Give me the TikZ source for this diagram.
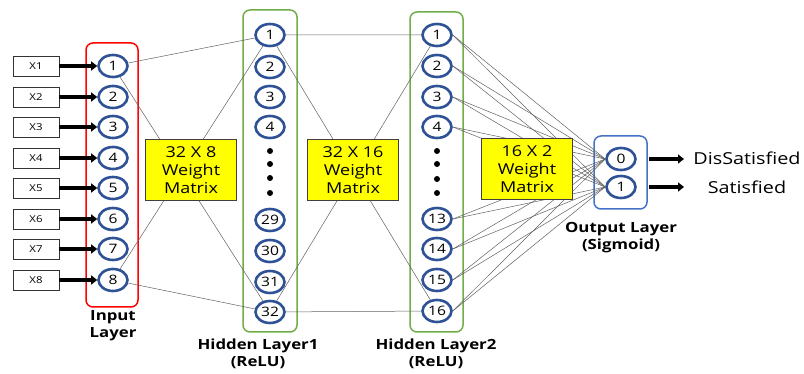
\documentclass[tikz,border=0pt]{standalone}
\usepackage{fontspec}
\setmainfont[FakeStretch=1.2]{Open Sans}
\usetikzlibrary{shapes.geometric,arrows.meta}
\definecolor{nblue}{RGB}{47,82,150}
\definecolor{gbox}{RGB}{112,173,71}
\definecolor{obox}{RGB}{68,114,196}
\definecolor{ybox}{RGB}{255,255,0}
\begin{document}
\begin{tikzpicture}[x=1pt,y=-1pt,
  neuron/.style={ellipse, draw=nblue, line width=2.6pt, fill=white,
    minimum width=29pt, minimum height=22pt, inner sep=0pt,
    font=\fontsize{13}{13}\selectfont},
  inbox/.style={draw=black!80, line width=0.8pt, minimum width=46pt,
    minimum height=20pt, inner sep=0pt, font=\fontsize{9.5}{10}\selectfont},
  wbox/.style={draw=black!75, fill=ybox, line width=1pt, minimum width=91pt,
    minimum height=61pt, inner sep=0pt, align=center,
    font=\fontsize{15}{18}\selectfont},
  link/.style={draw=black!62, line width=0.5pt},
  feed/.style={line width=3.4pt, -{Triangle[length=6pt,width=9pt]}},
  layerlabel/.style={font=\bfseries\fontsize{14}{17}\selectfont, align=center},
  group/.style={rounded corners=7pt, line width=1.5pt, fill=white},
  dotmark/.style={circle, fill=black, inner sep=0pt, minimum size=6pt},
  outtext/.style={font=\fontsize{16.5}{17}\selectfont}]
\useasboundingbox (0,0) rectangle (804,374);

% layer frames
\draw[group, draw=red] (86,43) rectangle (138,307);
\draw[group, draw=gbox] (243,10) rectangle (297,332);
\draw[group, draw=gbox] (410,12) rectangle (463,332);
\draw[group, draw=obox] (594,136) rectangle (647,209);

% input layer
\foreach \i/\y in {1/66,2/97,3/127,4/158,5/188,6/219,7/249,8/280}{
  \node[inbox] (x\i) at (36,\y) {X\i};
  \node[neuron] (in\i) at (113,\y) {\i};
  \draw[feed] (x\i.east) -- (in\i.west);
}

% hidden layer 1
\foreach \i/\y in {1/35,2/67,3/97,4/127,29/220,30/251,31/282,32/312}{
  \node[neuron] (ha\i) at (270,\y) {\i};
}
\foreach \k/\y in {1/151,2/164,3/178,4/193}{
  \node[dotmark] (hadot\k) at (270,\y) {};
}

% hidden layer 2
\foreach \i/\y in {1/35,2/66,3/97,4/127,13/219,14/249,15/280,16/311}{
  \node[neuron] (hb\i) at (437,\y) {\i};
}
\foreach \k/\y in {1/151,2/164,3/179,4/193}{
  \node[dotmark] (hbdot\k) at (437,\y) {};
}

% output layer
\node[neuron] (o0) at (621,159) {0};
\node[neuron] (o1) at (621,187) {1};

% weight connections
\draw[link] (in1) -- (ha1) (in1) -- (ha32) (in8) -- (ha1) (in8) -- (ha32);
\draw[link] (ha1) -- (hb1) (ha1) -- (hb16) (ha32) -- (hb1) (ha32) -- (hb16);
\foreach \i in {1,2,3,4,13,14,15,16}{
  \draw[link] (hb\i.east) -- (o0.west);
  \draw[link] (hb\i.east) -- (o1.west);
}

% weight matrices
\node[wbox] (w1) at (191,170.5) {32 X 8\\Weight\\Matrix};
\node[wbox] (w2) at (353,170.5) {32 X 16\\Weight\\Matrix};
\node[wbox] (w3) at (527,169) {16 X 2\\Weight\\Matrix};

% layer captions
\node[layerlabel] (lin) at (113,326) {Input\\Layer};
\node[layerlabel] (lh1) at (258,354) {Hidden Layer1\\(ReLU)};
\node[layerlabel] (lh2) at (436,354) {Hidden Layer2\\(ReLU)};
\node[layerlabel] (lout) at (621,238) {Output Layer\\(Sigmoid)};

% class outputs
\node[outtext] (dis) at (747,158) {DisSatisfied};
\node[outtext] (sat) at (747,187) {Satisfied};
\coordinate (a0) at (649,159);
\coordinate (a1) at (649,187);
\coordinate (d0) at (684,159);
\coordinate (d1) at (684,187);
\draw[feed] (a0) -- (d0);
\draw[feed] (a1) -- (d1);
\end{tikzpicture}
\end{document}
